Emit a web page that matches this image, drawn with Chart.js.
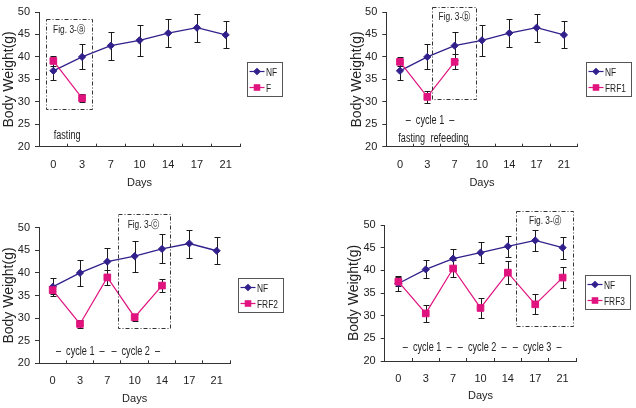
<!DOCTYPE html>
<html><head><meta charset="utf-8">
<script src="https://cdn.jsdelivr.net/npm/chart.js@4.4.0/dist/chart.umd.min.js"></script>
<style>
html,body{margin:0;padding:0;background:#fff;}
#wrap{position:relative;width:636px;height:408px;overflow:hidden;background:#fff;}
.p{position:absolute;width:318px;height:204px;}
</style></head><body>
<div id="wrap">
<div class="p" style="left:0;top:0"><canvas id="c1"></canvas></div>
<div class="p" style="left:318px;top:0"><canvas id="c2"></canvas></div>
<div class="p" style="left:0;top:204px"><canvas id="c3"></canvas></div>
<div class="p" style="left:318px;top:204px"><canvas id="c4"></canvas></div>
</div>
<script>
// ---- data ----
const days = ['0', '3', '7', '10', '14', '17', '21'];
const yTickMin = 20, yTickMax = 50, yTickStep = 5;
const nfMean = [36.9, 40.0, 42.5, 43.7, 45.3, 46.5, 44.9];
const nfErr = [2.0, 2.8, 3.1, 3.4, 3.2, 3.1, 3.0];
const nfMean4 = [37.1, 40.2, 42.6, 43.9, 45.3, 46.6, 45.0];
const nfErr4 = [1.7, 2.0, 2.1, 2.3, 2.3, 2.3, 2.4];
const fMean = [39.1, 30.8];
const fErr = [1.1, 0.9];
const frf1Mean = [38.9, 31.1, 38.9];
const frf1Err = [1.0, 1.4, 1.7];
const frf2Mean = [36.2, 28.7, 39.0, 30.2, 37.2];
const frf2Err = [0.9, 0.9, 1.6, 0.8, 1.5];
const frf3Mean = [37.5, 30.5, 40.4, 31.7, 39.5, 32.5, 38.4];
const frf3Err = [1.0, 1.9, 1.8, 2.2, 2.5, 2.2, 2.4];

// ---- styles ----
const FONT = "'Liberation Sans',Arial,sans-serif";
const SQUEEZE = 0.76;
const NF_COLOR = '#32208c';
const PINK = '#e0137f';
const AXIS = '#333';
const TXT = '#222';

function nfSet(mean, err) {
  return { label: 'NF', data: mean, errors: err, borderColor: NF_COLOR, backgroundColor: NF_COLOR,
    borderWidth: 1.3, pointStyle: 'rectRot', pointRadius: 3.6, pointBorderWidth: 1, order: 1, tension: 0 };
}
function pinkSet(label, mean, err) {
  return { label: label, data: mean, errors: err, borderColor: PINK, backgroundColor: PINK,
    borderWidth: 1.2, pointStyle: 'rect', pointRadius: 4.7, pointBorderWidth: 1, order: 0, tension: 0 };
}

function squeezedText(ctx, text, x, y, align) {
  ctx.save();
  ctx.translate(x, y);
  ctx.scale(SQUEEZE, 1);
  ctx.textAlign = align; ctx.textBaseline = 'middle';
  ctx.fillText(text, 0, 0);
  ctx.restore();
}

const deco = {
  id: 'deco',
  beforeDatasetsDraw(chart) {
    const ctx = chart.ctx, ys = chart.scales.y;
    ctx.save();
    ctx.strokeStyle = '#1a1a1a'; ctx.lineWidth = 1;
    chart.data.datasets.forEach((ds, i) => {
      const meta = chart.getDatasetMeta(i);
      meta.data.forEach((pt, j) => {
        const e = ds.errors[j]; if (e == null) return;
        const m = ds.data[j];
        const yt = Math.round(ys.getPixelForValue(m + e)) + 0.5;
        const yb = Math.round(ys.getPixelForValue(m - e)) + 0.5;
        const x = Math.round(pt.x) + 0.5;
        ctx.beginPath();
        ctx.moveTo(x, yt); ctx.lineTo(x, yb);
        ctx.moveTo(x - 3, yt); ctx.lineTo(x + 3, yt);
        ctx.moveTo(x - 3, yb); ctx.lineTo(x + 3, yb);
        ctx.stroke();
      });
    });
    ctx.restore();
  },
  afterDraw(chart, args, opts) {
    const ctx = chart.ctx, xs = chart.scales.x, ys = chart.scales.y, a = chart.chartArea;
    ctx.save();
    // dash-dot box
    const b = opts.box;
    const x0 = Math.round(xs.getPixelForValue(b.x0)) + 0.5, x1 = Math.round(xs.getPixelForValue(b.x1)) + 0.5;
    const y0 = Math.round(ys.getPixelForValue(b.y0)) + 0.5, y1 = Math.round(ys.getPixelForValue(b.y1)) + 0.5;
    ctx.strokeStyle = '#333'; ctx.lineWidth = 1;
    ctx.setLineDash([4, 2, 1, 2]);
    ctx.strokeRect(x0, y1, x1 - x0, y0 - y1);
    ctx.setLineDash([]);
    // texts
    ctx.fillStyle = TXT;
    opts.texts.forEach(t => {
      ctx.font = (t.size || 12) + 'px ' + FONT;
      squeezedText(ctx, t.text, xs.getPixelForValue(t.x), ys.getPixelForValue(t.y), 'center');
    });
    // legend box
    const dsets = chart.data.datasets;
    ctx.font = '11px ' + FONT;
    const tw = Math.max(...dsets.map(d => ctx.measureText(d.label).width)) * SQUEEZE;
    const lx = Math.round(a.right + opts.legendDx) + 0.5, ly = Math.round(a.top + 50) + 0.5;
    const w = Math.round(20 + tw + 4), h = 34;
    ctx.strokeStyle = '#555'; ctx.lineWidth = 1;
    ctx.strokeRect(lx, ly, w, h);
    dsets.forEach((ds, i) => {
      const ry = ly + 9 + i * 16;
      ctx.strokeStyle = ds.borderColor; ctx.lineWidth = 1.2;
      ctx.beginPath(); ctx.moveTo(lx + 2, ry); ctx.lineTo(lx + 17, ry); ctx.stroke();
      ctx.fillStyle = ds.backgroundColor; ctx.strokeStyle = ds.borderColor;
      Chart.helpers.drawPoint(ctx, { pointStyle: ds.pointStyle, radius: ds.pointStyle === 'rect' ? 3.8 : 3, rotation: 0, borderWidth: 1 }, lx + 9.5, ry);
      ctx.fillStyle = TXT;
      squeezedText(ctx, ds.label, lx + 18.5, ry + 1, 'left');
    });
    ctx.restore();
  }
};

function makeChart(id, cfg) {
  return new Chart(document.getElementById(id), {
    type: 'line',
    data: { labels: days, datasets: cfg.datasets },
    options: {
      responsive: true, maintainAspectRatio: false, animation: false,
      layout: { padding: cfg.pad },
      plugins: { legend: { display: false }, tooltip: { enabled: false }, deco: cfg.deco },
      scales: {
        x: {
          type: 'category', offset: true,
          grid: { offset: true, drawOnChartArea: false, drawTicks: true, tickLength: -3, color: AXIS },
          border: { color: AXIS, width: 1 },
          ticks: { font: { size: 11, family: FONT }, color: TXT, padding: 14.3, maxRotation: 0, autoSkip: false },
          title: { display: true, text: 'Days', font: { size: 11, family: FONT }, color: TXT, padding: 0 },
          afterFit: s => { s.height = cfg.xh; }
        },
        y: {
          min: yTickMin, max: yTickMax,
          grid: { drawOnChartArea: false, drawTicks: true, tickLength: 4, color: AXIS },
          border: { color: AXIS, width: 1 },
          ticks: { stepSize: yTickStep, font: { size: 11, family: FONT }, color: TXT, padding: 5 },
          title: { display: true, text: 'Body Weight(g)', font: { size: 14, family: FONT }, color: TXT, padding: 0 },
          afterFit: s => { s.width = cfg.yw; }
        }
      }
    },
    plugins: [deco]
  });
}

makeChart('c1', {
  datasets: [nfSet(nfMean, nfErr), pinkSet('F', fMean, fErr)],
  pad: { left: 0.6, right: 78, top: 12, bottom: 14.4 }, yw: 38.4, xh: 42.9,
  deco: {
    box: { x0: -0.26, x1: 1.35, y0: 28.35, y1: 48.4 }, legendDx: 7,
    texts: [{ text: 'Fig. 3-ⓐ', x: 0.55, y: 46.1, size: 11 }, { text: 'fasting', x: 0.48, y: 22.5 }]
  }
});
makeChart('c2', {
  datasets: [nfSet(nfMean, nfErr), pinkSet('FRF1', frf1Mean, frf1Err)],
  pad: { left: 30.9, right: 58.4, top: 12, bottom: 14.4 }, yw: 37.4, xh: 42.9,
  deco: {
    box: { x0: 1.16, x1: 2.80, y0: 30.6, y1: 51.05 }, legendDx: 8.5,
    texts: [{ text: 'Fig. 3-ⓑ', x: 2.0, y: 48.9, size: 11 }, { text: '–  cycle 1  –', x: 1.1, y: 25.7 },
      { text: 'fasting', x: 0.43, y: 21.7 }, { text: 'refeeding', x: 1.81, y: 21.7 }]
  }
});
makeChart('c3', {
  datasets: [nfSet(nfMean, nfErr), pinkSet('FRF2', frf2Mean, frf2Err)],
  pad: { left: 0.6, right: 87.7, top: 23.7, bottom: 2.4 }, yw: 38.4, xh: 42.3,
  deco: {
    box: { x0: 2.38, x1: 4.29, y0: 27.9, y1: 53.0 }, legendDx: 8,
    texts: [{ text: 'Fig. 3-ⓒ', x: 3.33, y: 50.6, size: 11 }, { text: '–  cycle 1  –', x: 1.01, y: 22.6 },
      { text: '–  cycle 2  –', x: 3.04, y: 22.6 }]
  }
});
makeChart('c4', {
  datasets: [nfSet(nfMean4, nfErr4), pinkSet('FRF3', frf3Mean, frf3Err)],
  pad: { left: 27.6, right: 59.7, top: 21, bottom: 5.4 }, yw: 39.1, xh: 41.6,
  deco: {
    box: { x0: 4.29, x1: 6.39, y0: 27.8, y1: 53.1 }, legendDx: 8.4,
    texts: [{ text: 'Fig. 3-ⓓ', x: 5.36, y: 50.95, size: 11 }, { text: '–  cycle 1  –', x: 1.05, y: 23.0 },
      { text: '–  cycle 2  –', x: 3.06, y: 23.0 }, { text: '–  cycle 3  –', x: 5.07, y: 23.0 }]
  }
});
</script>
</body></html>
